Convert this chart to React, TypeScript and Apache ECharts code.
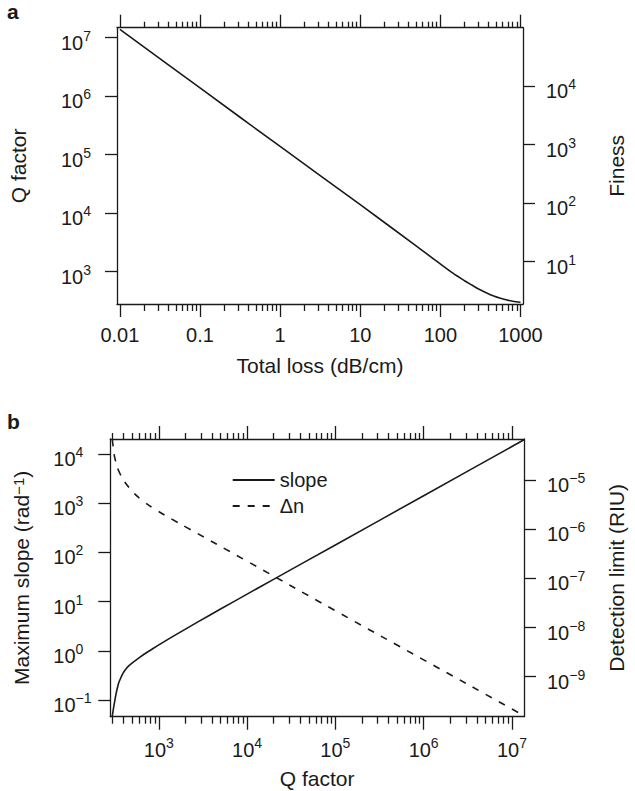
import React, { useEffect, useRef } from 'react';
import * as echarts from 'echarts';

// Panel a: Q factor as a function of total propagation loss
const totalLoss = [0.01, 0.1, 1, 10, 47, 82, 142, 200, 247, 300, 428, 550, 678, 800, 1000];
const qFactorA = [1.38e7, 1.38e6, 1.38e5, 1.4e4, 2920, 1660, 950, 700, 590, 505, 400, 355, 328, 313, 300];

// Panel b: maximum slope and detection limit as functions of Q factor
const qSlope = [297, 318, 345, 367, 392, 425, 466, 601, 843, 1187, 1811, 2772, 5000, 1e4, 2.04e4, 1e5, 1e6, 1e7, 1.37e7];
const maxSlope = [0.047, 0.0995, 0.2, 0.27, 0.347, 0.428, 0.51, 0.73, 1.09, 1.59, 2.49, 3.87, 7.06, 14.2, 29, 142, 1420, 1.42e4, 1.95e4];
const qDelta = [297, 304, 318, 361, 466, 653, 957, 1403, 2056, 1e4, 1e5, 1e6, 1e7, 1.2e7];
const deltaN = [6.8e-5, 4.8e-5, 2.8e-5, 1.39e-5, 6.9e-6, 3.85e-6, 2.42e-6, 1.62e-6, 1.1e-6, 2.25e-7, 2.2e-8, 2.2e-9, 2.2e-10, 1.83e-10];

// Labelled decades on each axis
const lossDecades = [0.01, 0.1, 1, 10, 100, 1000];
const qDecadesA = [1e3, 1e4, 1e5, 1e6, 1e7];
const finessDecades = [10, 100, 1000, 1e4];
const qDecadesB = [1e3, 1e4, 1e5, 1e6, 1e7];
const slopeDecades = [0.1, 1, 10, 100, 1000, 1e4];
const dlDecades = [1e-9, 1e-8, 1e-7, 1e-6, 1e-5];

// Axis extents
const lossRange = [0.0092, 1075];
const qRangeA = [280, 1.48e7];
const finessRange = [1.88, 9.93e4];
const qRangeB = [282, 1.37e7];
const slopeRange = [0.0458, 2.02e4];
const dlRange = [1.53e-10, 6.93e-5];

const FONT = "'Liberation Sans', Arial, Helvetica, sans-serif";
const INK = '#1a1a1a';

function minorTicks(range: number[]): number[] {
  const out: number[] = [];
  const e0 = Math.floor(Math.log10(range[0]));
  const e1 = Math.ceil(Math.log10(range[1]));
  for (let e = e0; e <= e1; e++) {
    const d = Math.pow(10, e);
    for (let m = 2; m <= 9; m++) {
      const v = m * d;
      if (v >= range[0] && v <= range[1]) out.push(v);
    }
  }
  return out;
}

function powerLabel(v: number): string {
  const e = Math.round(Math.log10(v));
  const s = e < 0 ? '\u2212' + -e : String(e);
  return `{b|10}{s|${s}}`;
}

const rich = {
  b: { fontSize: 20, fontFamily: FONT, color: INK, lineHeight: 24, verticalAlign: 'bottom' },
  s: { fontSize: 14, fontFamily: FONT, color: INK, verticalAlign: 'top' },
};

const lineStyle = { color: INK, width: 1.3 };

function xAxes(gridIndex: number, range: number[], major: number[], label: any, name: string, nameGap: number) {
  const base = {
    type: 'log',
    gridIndex,
    min: range[0],
    max: range[1],
    splitLine: { show: false },
  };
  const minor = minorTicks(range);
  return [
    {
      ...base,
      position: 'bottom',
      name,
      nameLocation: 'middle',
      nameGap,
      nameTextStyle: { fontSize: 21, fontFamily: FONT, color: INK },
      axisLine: { show: true, onZero: false, lineStyle },
      axisTick: { show: true, length: 13, customValues: major, lineStyle },
      axisLabel: { customValues: major, ...label },
    },
    {
      ...base,
      position: 'bottom',
      axisLine: { show: false, onZero: false },
      axisTick: { show: true, length: 7, customValues: minor, lineStyle },
      axisLabel: { show: false },
    },
    {
      ...base,
      position: 'top',
      axisLine: { show: true, onZero: false, lineStyle },
      axisTick: { show: true, length: 13, customValues: major, lineStyle },
      axisLabel: { show: false },
    },
    {
      ...base,
      position: 'top',
      axisLine: { show: false, onZero: false },
      axisTick: { show: true, length: 6, customValues: minor, lineStyle },
      axisLabel: { show: false },
    },
  ];
}

function yAxis(gridIndex: number, position: string, range: number[], major: number[], margin: number, name: string, nameGap: number, nameRich?: any) {
  return {
    type: 'log',
    gridIndex,
    position,
    min: range[0],
    max: range[1],
    splitLine: { show: false },
    name,
    nameLocation: 'middle',
    nameGap,
    nameRotate: 90,
    nameTextStyle: { fontSize: 21, fontFamily: FONT, color: INK, rich: nameRich },
    axisLine: { show: true, onZero: false, lineStyle },
    axisTick: { show: true, length: 12, customValues: major, lineStyle },
    axisLabel: {
      customValues: major,
      formatter: (v: number) => powerLabel(v),
      align: 'left',
      margin,
      padding: [6, 0, 0, 0],
      rich,
    },
  };
}

export default function App() {
  const ref = useRef<HTMLDivElement>(null);

  useEffect(() => {
    document.body.style.margin = '0';
    const chart = echarts.init(ref.current!, undefined, { renderer: 'svg' });

    const plainLabel = {
      margin: 21,
      fontSize: 20,
      fontFamily: FONT,
      color: INK,
      formatter: (v: number) => String(v),
    };
    const powerXLabel = {
      margin: 19,
      formatter: (v: number) => powerLabel(v),
      rich,
    };

    chart.setOption({
      animation: false,
      backgroundColor: '#fff',
      title: [
        { text: 'a', left: 7, top: 1, padding: 0, textStyle: { fontSize: 21, fontWeight: 'bold', fontFamily: FONT, color: INK } },
        { text: 'b', left: 7, top: 411, padding: 0, textStyle: { fontSize: 21, fontWeight: 'bold', fontFamily: FONT, color: INK } },
      ],
      grid: [
        { left: 110.3, top: 27.7, width: 423, height: 276.3 },
        { left: 110.3, top: 439, width: 423, height: 277.7 },
      ],
      legend: {
        left: 231.7,
        top: 470,
        padding: 0,
        orient: 'vertical',
        itemWidth: 42,
        itemHeight: 14,
        itemGap: 6,
        data: ['slope', '\u0394n'],
        itemStyle: { opacity: 0, color: 'rgba(0,0,0,0)', borderColor: 'rgba(0,0,0,0)', borderWidth: 0 },
        textStyle: { fontSize: 20, fontFamily: FONT, color: INK },
      },
      xAxis: [
        ...xAxes(0, lossRange, lossDecades, plainLabel, 'Total loss (dB/cm)', 51),
        ...xAxes(1, qRangeB, qDecadesB, powerXLabel, 'Q factor', 51),
      ],
      yAxis: [
        yAxis(0, 'left', qRangeA, qDecadesA, 56, 'Q factor', 88),
        yAxis(0, 'right', finessRange, finessDecades, 23, 'Finess', 83),
        yAxis(1, 'left', slopeRange, slopeDecades, 57, 'Maximum slope (rad{s|\u22121})', 78, {
          s: { fontSize: 15, fontFamily: FONT, color: INK, verticalAlign: 'top' },
        }),
        yAxis(1, 'right', dlRange, dlDecades, 23, 'Detection limit (RIU)', 82),
      ],
      series: [
        {
          name: 'Q factor',
          type: 'line',
          xAxisIndex: 0,
          yAxisIndex: 0,
          data: totalLoss.map((x, i) => [x, qFactorA[i]]),
          symbol: 'none',
          smooth: 0.3,
          itemStyle: { color: INK },
          lineStyle: { color: INK, width: 1.6 },
        },
        {
          name: 'slope',
          type: 'line',
          xAxisIndex: 4,
          yAxisIndex: 2,
          data: qSlope.map((x, i) => [x, maxSlope[i]]),
          symbol: 'none',
          smooth: 0.5,
          itemStyle: { color: INK },
          lineStyle: { color: INK, width: 1.6 },
        },
        {
          name: '\u0394n',
          type: 'line',
          xAxisIndex: 4,
          yAxisIndex: 3,
          data: qDelta.map((x, i) => [x, deltaN[i]]),
          symbol: 'none',
          smooth: 0.4,
          itemStyle: { color: INK },
          lineStyle: { color: INK, width: 1.6, type: [7, 8] },
        },
      ],
    });

    return () => chart.dispose();
  }, []);

  return <div ref={ref} style={{ width: 635, height: 791 }} />;
}
